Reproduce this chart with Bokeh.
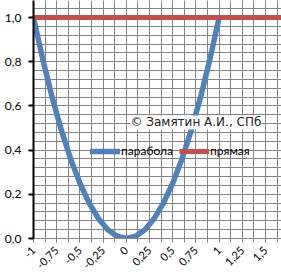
import math
import numpy as np
from bokeh.plotting import figure
from bokeh.models import (Range1d, FixedTicker, CustomJSTickFormatter, Legend,
                          LegendItem, Label)
from bokeh.embed import file_html
from bokeh.resources import INLINE

# ---- data ----
x_parabola = [-1.0, -0.9, -0.8, -0.7, -0.6, -0.5, -0.4, -0.3, -0.2, -0.1, 0.0,
              0.1, 0.2, 0.3, 0.4, 0.5, 0.6, 0.7, 0.8, 0.9, 1.0]
y_parabola = [1.0, 0.81, 0.64, 0.49, 0.36, 0.25, 0.16, 0.09, 0.04, 0.01, 0.0,
              0.01, 0.04, 0.09, 0.16, 0.25, 0.36, 0.49, 0.64, 0.81, 1.0]
x_line = [-1.0, 1.75]
y_line = [1.0, 1.0]
x_ticks = [-1.0, -0.75, -0.5, -0.25, 0.0, 0.25, 0.5, 0.75, 1.0, 1.25, 1.5, 1.75]
y_ticks = [0.0, 0.2, 0.4, 0.6, 0.8, 1.0]
series_names = ["парабола", "прямая"]
copyright_text = "© Замятин А.И., СПб"

BLUE = "#4F81BD"
RED = "#C0504D"
GRID = "#858585"
FONT = "Lato"

p = figure(width=281, height=279, output_backend="svg", toolbar_location=None,
           x_range=Range1d(-1.0, 1.672), y_range=Range1d(0.0, 1.077),
           min_border_left=33, min_border_right=0, min_border_top=0,
           min_border_bottom=41)
p.outline_line_color = None
p.background_fill_color = "white"
p.border_fill_color = "white"

x_minor = list(np.arange(-1.0, 1.76, 0.125))
y_minor = list(np.arange(0.0, 1.09, 0.04))

# grids
p.xgrid.ticker = FixedTicker(ticks=x_ticks, minor_ticks=x_minor)
p.ygrid.ticker = FixedTicker(ticks=y_ticks, minor_ticks=y_minor)
for g in (p.xgrid, p.ygrid):
    g.grid_line_color = GRID
    g.grid_line_width = 1
    g.minor_grid_line_color = GRID
    g.minor_grid_line_width = 1

# x axis
xa = p.xaxis[0]
xa.ticker = FixedTicker(ticks=x_ticks, minor_ticks=x_minor)
xa.formatter = CustomJSTickFormatter(code="return tick.toString().replace('.', ',');")
xa.major_label_orientation = math.pi / 4
xa.axis_line_color = GRID
xa.axis_line_width = 1
xa.major_tick_line_color = GRID
xa.minor_tick_line_color = GRID
xa.major_tick_out = 4
xa.major_tick_in = 0
xa.minor_tick_out = 4
xa.minor_tick_in = 0
xa.major_label_text_font = FONT
xa.major_label_text_font_size = "11px"
xa.major_label_text_color = "#000000"
xa.major_label_standoff = 6

# y axis
ya = p.yaxis[0]
ya.ticker = FixedTicker(ticks=y_ticks)
ya.formatter = CustomJSTickFormatter(code="return tick.toFixed(1).replace('.', ',');")
ya.axis_line_color = "black"
ya.axis_line_width = 2
ya.major_tick_line_color = "black"
ya.major_tick_line_width = 2
ya.major_tick_out = 5
ya.major_tick_in = 0
ya.minor_tick_line_color = None
ya.major_label_text_font = FONT
ya.major_label_text_font_size = "12px"
ya.major_label_text_color = "#000000"
ya.major_label_standoff = 7

r1 = p.line(x_parabola, y_parabola, line_color=BLUE, line_width=5.5,
            line_join="round", line_cap="round")
r2 = p.line(x_line, y_line, line_color=RED, line_width=5)

legend = Legend(items=[LegendItem(label=series_names[0], renderers=[r1]),
                       LegendItem(label=series_names[1], renderers=[r2])],
                orientation="horizontal", location=(57, 80),
                background_fill_alpha=0, border_line_alpha=0,
                glyph_width=30, glyph_height=12, label_standoff=1,
                spacing=6, padding=0, margin=0,
                label_text_font=FONT, label_text_font_size="12px",
                label_text_color="#000000", label_height=12)
p.add_layout(legend, "center")

lab = Label(x=0.045, y=0.525, text=copyright_text, text_font="DejaVu Sans",
            text_font_size="12px", text_baseline="middle", text_align="left",
            background_fill_color="white", text_color="#222222")
p.add_layout(lab)

open("out.html", "w").write(file_html(p, INLINE))
